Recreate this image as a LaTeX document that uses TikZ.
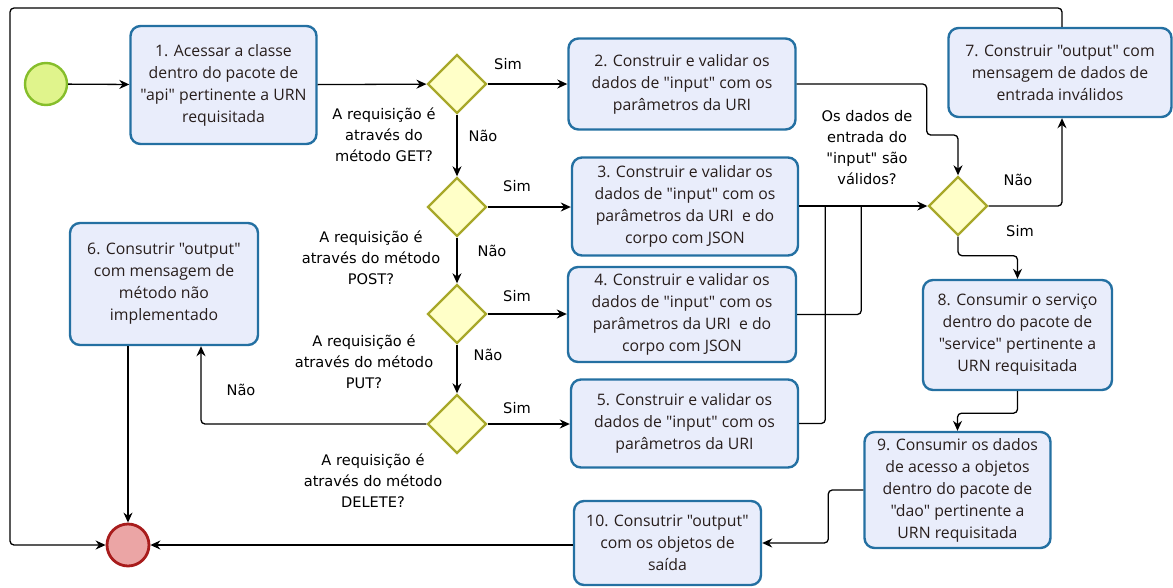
\documentclass[tikz,border=0pt]{standalone}
\usepackage{fontspec}
\newfontfamily\boxfont{Open Sans}
\newfontfamily\lblfont{DejaVu Sans}
\usetikzlibrary{shapes.geometric,arrows.meta}
\definecolor{boxfill}{RGB}{233,237,251}
\definecolor{boxdraw}{RGB}{36,112,162}
\definecolor{diafill}{RGB}{255,255,200}
\definecolor{diadraw}{RGB}{168,168,42}
\definecolor{startfill}{RGB}{224,244,140}
\definecolor{startdraw}{RGB}{134,190,43}
\definecolor{endfill}{RGB}{235,165,165}
\definecolor{enddraw}{RGB}{168,28,28}
\definecolor{txt}{RGB}{40,30,28}
\tikzset{
  taskbox/.style={draw=boxdraw, fill=boxfill, line width=2.4pt, rounded corners=10pt,
    align=center, inner sep=2pt, text=txt, font=\boxfont\fontsize{15.8}{22}\selectfont},
  gate/.style={diamond, aspect=1, draw=diadraw, fill=diafill, line width=2.4pt,
    minimum width=59pt, minimum height=59pt, inner sep=0pt},
  flow/.style={line width=1.3pt, -{Stealth[length=10pt,width=9pt]}, rounded corners=4pt},
  plain/.style={line width=1.3pt, rounded corners=4pt},
  lbl/.style={font=\lblfont\fontsize{14.6}{21}\selectfont, align=center, text=black, inner sep=0pt},
}
\begin{document}
\begin{tikzpicture}[x=1pt,y=-1pt]
\useasboundingbox (0,0) rectangle (1173,587);

% events
\node[circle, draw=startdraw, fill=startfill, line width=2.4pt, minimum size=42pt, inner sep=0pt] (start) at (46,84) {};
\node[circle, draw=enddraw, fill=endfill, line width=2.8pt, minimum size=42pt, inner sep=0pt] (endc) at (128,545) {};

% tasks
\node[taskbox, minimum width=186pt, minimum height=118pt] (b1) at (223.5,85) {1. Acessar a classe\\dentro do pacote de\\"api" pertinente a URN\\requisitada};
\node[taskbox, minimum width=227pt, minimum height=91pt] (b2) at (682,84) {2. Construir e validar os\\dados de "input" com os\\parâmetros da URI};
\node[taskbox, minimum width=226pt, minimum height=98pt] (b3) at (685,206.5) {3. Construir e validar os\\dados de "input" com os\\parâmetros da URI\ \ e do\\corpo com JSON};
\node[taskbox, minimum width=228pt, minimum height=95pt] (b4) at (682,314.5) {4. Construir e validar os\\dados de "input" com os\\parâmetros da URI\ \ e do\\corpo com JSON};
\node[taskbox, minimum width=227pt, minimum height=88pt] (b5) at (684.5,423.5) {5. Construir e validar os\\dados de "input" com os\\parâmetros da URI};
\node[taskbox, minimum width=188pt, minimum height=122pt] (b6) at (164,284) {6. Consutrir "output"\\com mensagem de\\método não\\implementado};
\node[taskbox, minimum width=223pt, minimum height=89pt] (b7) at (1060,72.5) {7. Construir "output" com\\mensagem de dados de\\entrada inválidos};
\node[taskbox, minimum width=189pt, minimum height=110pt] (b8) at (1017.5,335) {8. Consumir o serviço\\dentro do pacote de\\"service" pertinente a\\URN requisitada};
\node[taskbox, minimum width=186pt, minimum height=116pt] (b9) at (957.5,490) {9. Consumir os dados\\de acesso a objetos\\dentro do pacote de\\"dao" pertinente a\\URN requisitada};
\node[taskbox, minimum width=187pt, minimum height=84pt] (b10) at (667.5,543) {10. Consutrir "output"\\com os objetos de\\saída};

% gateways
\node[gate] (d1) at (457,84) {};
\node[gate] (d2) at (457,207) {};
\node[gate] (d3) at (457,314) {};
\node[gate] (d4) at (457,424) {};
\node[gate] (dv) at (958,206) {};

% question labels
\node[lbl] (q1) at (384,135) {A requisição é\\através do\\método GET?};
\node[lbl] (q2) at (371,258) {A requisição é\\através do método\\POST?};
\node[lbl] (q3) at (364,362) {A requisição é\\através do método\\PUT?};
\node[lbl] (q4) at (373,481) {A requisição é\\através do método\\DELETE?};
\node[lbl] (qv) at (867,147.5) {Os dados de\\entrada do\\"input" são\\válidos?};

% branch labels
\node[lbl] (s1) at (508,64) {Sim};
\node[lbl] (s2) at (517,186) {Sim};
\node[lbl] (s3) at (517,296) {Sim};
\node[lbl] (s4) at (517,408) {Sim};
\node[lbl] (n1) at (483,136) {Não};
\node[lbl] (n2) at (492,251) {Não};
\node[lbl] (n3) at (488,355) {Não};
\node[lbl] (n4) at (241,390) {Não};
\node[lbl] (nv) at (1018,180) {Não};
\node[lbl] (sv) at (1020,231) {Sim};

% coordinates for the outer loop
\coordinate (loopTL) at (10,8);

% connectors
\draw[flow] (start) -- (b1);
\draw[flow] (b1) -- (d1);
\draw[flow] (d1) -- (b2.west |- d1);
\draw[flow] (d1) -- (d2);
\draw[flow] (d2) -- (b3.west |- d2);
\draw[flow] (d2) -- (d3);
\draw[flow] (d3) -- (b4.west |- d3);
\draw[flow] (d3) -- (d4);
\draw[flow] (d4) -- (b5.west |- d4);
\draw[flow] (d4.west) -| ([xshift=37pt]b6.south);
\draw[flow] ([xshift=-36pt]b6.south) -- (endc.north);

\draw[flow] (b2.east) -- ++(130,0) -- ++(0,51) -| (dv.north);
\draw[flow] (b3.east |- dv) -- (dv.west);
\draw[plain] (b4.east) -| ([xshift=-66pt]dv.west);
\draw[plain] (b5.east) -| ([xshift=-102pt]dv.west);

\draw[flow] (dv.east) -| ([xshift=2pt]b7.south);
\draw[flow] (dv.south) -- ++(0,19) -| (b8.north);
\draw[flow] (b8.south) -- ++(0,22) -| (b9.north);
\draw[flow] (b9.west) -- ++(-35,0) |- (b10.east);
\draw[flow] (b10.west |- endc) -- (endc.east);

\draw[flow] ([xshift=2pt]b7.north) |- (loopTL) |- (endc.west);
\end{tikzpicture}
\end{document}
